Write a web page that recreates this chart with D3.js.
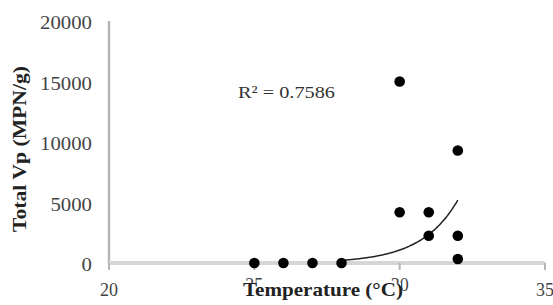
<!DOCTYPE html>
<html>
<head>
<meta charset="utf-8">
<script src="https://cdn.jsdelivr.net/npm/d3@7"></script>
<style>
body{margin:0;background:#fff;}
text{font-family:"Liberation Serif","DejaVu Serif",serif;}
</style>
</head>
<body>
<svg id="s"></svg>
<script>
var temps = [25, 26, 27, 28, 30, 30, 31, 31, 32, 32, 32];
var vp = [0, 0, 0, 0, 15000, 4200, 4200, 2250, 9300, 2250, 330];
var xTicks = [20, 25, 30, 35];
var yTicks = [0, 5000, 10000, 15000, 20000];
// exponential trendline y = a*e^(b*x), drawn from 28 to 32
var trendA = 5.45e-8, trendB = 0.79;
var trendRange = [28, 32];
var r2Label = 'R\u00b2 = 0.7586';

var s = d3.select('#s').attr('width', 553).attr('height', 305);

var x = d3.scaleLinear().domain([20, 35]).range([109, 545]);
var y = d3.scaleLinear().domain([0, 20000]).range([263, 21]);

// y axis
s.append('line')
.attr('x1', 109).attr('x2', 109)
.attr('y1', y(20000)).attr('y2', y(0))
.attr('stroke', '#b5b5b5').attr('stroke-width', 2.5);

s.selectAll('text.yt')
.data(yTicks)
.enter()
.append('text')
.attr('class', 'yt')
.attr('x', 92)
.attr('y', function(d){return y(d) + 8;})
.attr('text-anchor', 'end')
.attr('font-size', 18)
.attr('textLength', function(d){return String(d).length * 10.4;})
.attr('lengthAdjust', 'spacingAndGlyphs')
.attr('fill', '#444')
.text(function(d){return d;});

// x axis
s.append('line')
.attr('x1', 109).attr('x2', 545)
.attr('y1', y(0)).attr('y2', y(0))
.attr('stroke', '#d6d6d6').attr('stroke-width', 4);

s.selectAll('line.xtick')
.data(xTicks)
.enter()
.append('line')
.attr('class', 'xtick')
.attr('x1', function(d){return x(d);})
.attr('x2', function(d){return x(d);})
.attr('y1', y(0)).attr('y2', y(0) + 7)
.attr('stroke', '#b5b5b5').attr('stroke-width', 2);

s.selectAll('text.xt')
.data(xTicks)
.enter()
.append('text')
.attr('class', 'xt')
.attr('x', function(d){return x(d);})
.attr('y', function(d, i){return i == 1 || i == 2 ? 291 : 296;})
.attr('text-anchor', 'middle')
.attr('font-size', 18)
.attr('fill', '#444')
.text(function(d){return d;});

// trendline
var tx = d3.range(trendRange[0], trendRange[1] + 0.001, 0.05);
var line = d3.line()
.x(function(d){return x(d);})
.y(function(d){return y(trendA * Math.exp(trendB * d));})
.curve(d3.curveMonotoneX);

s.append('path')
.datum(tx)
.attr('d', line)
.attr('fill', 'none')
.attr('stroke', '#222')
.attr('stroke-width', 1.5);

// points
s.selectAll('circle')
.data(temps)
.enter()
.append('circle')
.attr('cx', function(d){return x(d);})
.attr('cy', function(d, i){return y(vp[i]);})
.attr('r', 5.3)
.attr('fill', '#000');

// R2 label
s.append('text')
.attr('x', 238)
.attr('y', 98)
.attr('font-size', 17)
.attr('textLength', 97)
.attr('lengthAdjust', 'spacingAndGlyphs')
.attr('fill', '#333')
.text(r2Label);

// axis titles
var xt = s.append('g');
var xtRect = xt.append('rect').attr('fill', '#fff');
var xtText = xt.append('text')
.attr('x', 323)
.attr('y', 296)
.attr('text-anchor', 'middle')
.attr('font-size', 19)
.attr('font-weight', 'bold')
.attr('textLength', 160)
.attr('lengthAdjust', 'spacingAndGlyphs')
.attr('fill', '#222')
.text('Temperature (\u00b0C)');
var bb = xtText.node().getBBox();
xtRect.attr('x', bb.x).attr('y', 283).attr('width', bb.width - 2).attr('height', 22);

s.append('text')
.attr('transform', 'translate(26,149) rotate(-90)')
.attr('text-anchor', 'middle')
.attr('font-size', 19)
.attr('font-weight', 'bold')
.attr('textLength', 166)
.attr('lengthAdjust', 'spacingAndGlyphs')
.attr('fill', '#222')
.text('Total Vp (MPN/g)');
</script>
</body>
</html>
